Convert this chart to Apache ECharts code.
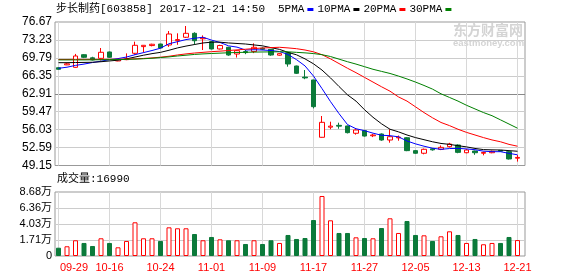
<!DOCTYPE html>
<html><head><meta charset="utf-8">
<script src="https://cdn.jsdelivr.net/npm/echarts@6/dist/echarts.min.js"></script>
<style>html,body{margin:0;padding:0;background:#fff}#c{width:578px;height:276px}</style>
</head><body><div id="c"></div>
<script>
// ---- data ----
const dates = ['09-29','10-09','10-10','10-11','10-12','10-13','10-16','10-17','10-18','10-19','10-20','10-23','10-24','10-25','10-26','10-27','10-30','10-31','11-01','11-02','11-03','11-06','11-07','11-08','11-09','11-10','11-13','11-14','11-15','11-16','11-17','11-20','11-21','11-22','11-23','11-24','11-27','11-28','11-29','11-30','12-01','12-04','12-05','12-06','12-07','12-08','12-11','12-12','12-13','12-14','12-15','12-18','12-19','12-20','12-21'];
const open  = [67.9,68.45,67.98,70.4,69.8,69.7,70.92,69.2,69.45,70.67,71.95,72.15,72.45,72.26,73.1,73.74,74.5,73.45,72.9,71.5,71.82,70.53,71.0,71.0,71.65,71.43,70.3,70.78,68.23,66.1,65.55,54.56,56.5,56.85,56.73,55.33,55.83,54.85,55.19,54.04,54.45,54.48,52.0,51.5,52.35,52.26,52.76,53.08,51.6,51.93,51.5,51.6,52.05,51.8,50.55];
const close = [67.6,68.65,70.15,69.9,69.4,70.86,69.9,69.5,69.6,72.2,72.2,72.4,71.7,74.37,73.3,74.5,73.08,73.6,71.5,72.16,70.34,71.17,70.8,71.82,71.45,70.34,70.6,68.62,66.83,65.95,60.43,57.43,56.7,56.7,55.45,55.96,54.8,55.0,54.04,54.67,54.6,52.0,51.5,52.26,52.15,52.63,53.27,51.67,52.12,51.6,51.65,51.86,51.9,50.4,50.7];
const low   = [67.5,68.4,67.9,69.75,69.3,69.3,69.8,69.15,69.35,70.4,70.8,72.0,71.6,71.9,72.3,73.6,72.3,71.3,71.4,71.4,70.2,69.85,70.5,70.7,71.3,70.2,70.2,68.1,66.7,65.7,60.1,54.5,56.1,56.2,55.3,55.06,54.7,54.6,53.9,53.52,53.9,51.9,51.4,51.3,52.0,52.1,52.6,51.5,51.5,51.2,51.1,51.5,51.8,50.3,49.9];
const high  = [68.0,68.8,70.55,70.5,70.0,71.68,71.0,69.55,70.65,72.9,72.25,72.5,72.5,74.94,74.5,75.9,74.7,74.1,73.0,72.3,71.9,71.3,71.3,72.58,71.8,71.5,70.7,70.9,68.3,67.46,65.6,58.64,57.55,57.36,56.8,56.1,56.0,55.2,55.3,56.09,54.9,54.6,52.1,52.4,52.5,53.0,53.5,53.2,52.3,52.0,51.8,52.0,52.1,51.9,51.15];
// volume in 万 (10k)
const volume = [0.59,0.80,1.67,1.28,0.84,1.96,1.28,0.65,1.57,4.28,1.96,1.96,1.57,3.55,3.41,3.41,2.58,1.67,2.15,1.81,1.67,1.67,1.13,1.67,1.13,1.67,1.28,2.44,1.86,2.0,4.61,8.10,4.57,2.73,2.73,2.10,2.0,1.96,3.45,4.86,2.73,4.47,2.44,2.39,1.57,2.25,2.97,2.44,1.28,1.86,1.09,1.28,1.28,2.15,1.699];
const ma5  = [67.79,68.0,68.35,68.6,68.9,69.15,69.45,69.65,69.95,70.4,70.8,71.2,71.65,72.5,72.9,73.3,73.55,73.75,73.2,72.75,72.1,71.85,71.3,71.35,71.3,71.2,71.0,70.45,69.45,68.25,66.3,63.9,61.4,59.1,57.0,56.2,55.83,55.35,54.95,54.87,54.65,53.85,53.3,52.85,52.47,52.25,52.4,52.43,52.33,52.18,51.9,51.8,51.8,51.48,51.2];
const ma10 = [68.87,68.87,68.9,68.92,68.95,69.05,69.2,69.35,69.6,69.95,70.3,70.6,70.85,71.25,71.7,72.05,72.35,72.65,72.8,72.8,72.65,72.55,72.45,72.27,72.1,71.75,71.42,70.85,70.38,69.6,68.65,67.45,65.95,64.3,62.7,61.5,59.85,58.4,57.15,56.1,55.6,55.0,54.5,54.1,53.7,53.38,53.2,52.95,52.72,52.42,52.2,52.15,52.12,52.0,51.88];
const ma20 = [69.48,69.48,69.5,69.5,69.5,69.5,69.52,69.52,69.55,69.6,69.68,69.78,69.92,70.1,70.35,70.55,70.72,70.85,70.98,71.08,71.2,71.32,71.45,71.58,71.68,71.76,71.82,71.7,71.55,71.3,70.95,70.4,69.6,68.7,67.8,66.95,66.05,65.15,64.25,63.4,62.3,61.5,60.4,59.3,58.3,57.4,56.8,56.1,55.5,55.0,54.5,54.05,53.7,53.2,52.85];
const ma30 = [69.4,69.4,69.4,69.4,69.42,69.43,69.45,69.47,69.5,69.55,69.62,69.72,69.85,69.98,70.15,70.3,70.45,70.55,70.63,70.7,70.77,70.82,70.86,70.9,70.92,70.94,70.96,70.95,70.85,70.75,70.62,70.4,70.05,69.55,69.05,68.6,68.1,67.6,67.2,66.8,66.3,65.75,65.15,64.5,63.8,62.9,62.2,61.5,60.7,60.0,59.3,58.7,57.9,57.1,56.3];
const priceTicks = [49.15,52.59,56.03,59.47,62.91,66.35,69.79,73.23,76.67];
const volTickValues = [0,1.71,4.03,6.36,8.68];
const volTickLabels = ['0','1.71万','4.03万','6.36万','8.68万'];
const labelDates = ['09-29','10-16','10-24','11-01','11-09','11-17','11-27','12-05','12-13','12-21'];
const lastVolume = 16990;
const stockTitle = '步长制药[603858] 2017-12-21 14:50';

// ---- styling / layout ----
const RED = '#ff0000', GREEN = '#0b7a3a';
const VOL_FLOOR = -0.6125;                 // value at the bottom edge of the volume panel
const VOL_TOP = volTickValues[4] - VOL_FLOOR;
const XMIN = -3.5 / 8.5, XMAX = 466.5 / 8.5; // index range spanned by the 470px panel frame
const labelIdx = labelDates.map(d => dates.indexOf(d));
const volTicksPos = [0].concat(volTickValues.slice(1).map(v => v - VOL_FLOOR));
const VLINE = { color: '#d8d8d8', type: 'solid', width: 1 };

const candleData = dates.map((d, i) => [i, open[i], close[i], low[i], high[i]]);
const volData = volume.map((v, i) => ({
  value: [i, v - VOL_FLOOR],
  itemStyle: close[i] >= open[i]
    ? { color: '#ffffff', borderColor: RED, borderWidth: 1 }
    : { color: GREEN, borderColor: GREEN, borderWidth: 1 }
}));
const pair = arr => arr.map((v, i) => [i, v]);
// vertical date guide lines as broken line segments
const guide = (y0, y1) => labelIdx.flatMap(i => [[i, y0], [i, y1], [i, '-']]);

const monoFont = "'Liberation Mono','Noto Sans CJK SC',monospace";
const numFont = "'Liberation Sans','Noto Sans CJK SC',sans-serif";

function xAxisCfg(gridIndex, showLabel) {
  return {
    type: 'value', gridIndex, min: XMIN, max: XMAX,
    axisLine: { show: false },
    axisTick: { show: false, customValues: labelIdx },
    axisLabel: {
      show: showLabel, customValues: labelIdx, color: RED, fontSize: 11,
      fontFamily: numFont, margin: 6,
      formatter: v => { const i = Math.round(v); return i === 0 ? '{first|' + dates[i] + '}' : dates[i]; },
      rich: { first: { padding: [0, 0, 0, 31], color: RED, fontSize: 11, fontFamily: numFont } }
    },
    splitLine: { show: false }
  };
}

const chart = echarts.init(document.getElementById('c'), null, { renderer: 'canvas' });
chart.setOption({
  animation: false,
  backgroundColor: '#ffffff',
  title: [
    { text: stockTitle, left: 56, top: 4, padding: 0,
      textStyle: { fontSize: 11, fontWeight: 'normal', color: '#000', fontFamily: monoFont } },
    { text: '成交量:' + lastVolume, left: 57, top: 174, padding: 0,
      textStyle: { fontSize: 11, fontWeight: 'normal', color: '#000', fontFamily: monoFont } }
  ],
  legend: {
    left: 278, top: 4, padding: 0, itemGap: 4, itemWidth: 6, itemHeight: 3,
    align: 'right', icon: 'rect', selectedMode: false,
    textStyle: { fontSize: 11, color: '#000', fontFamily: monoFont, padding: [0, -2, 0, 0] },
    data: ['5PMA', '10PMA', '20PMA', '30PMA']
  },
  graphic: [
    { type: 'text', left: 453, top: 23, silent: true, z: 0,
      style: { text: '东方财富网', font: 'bold 14px "Noto Sans CJK SC"', fill: '#d4d4d4' } },
    { type: 'text', left: 453, top: 38, silent: true, z: 0,
      style: { text: 'eastmoney.com', font: 'bold 9.5px "Liberation Sans"', fill: '#d4d4d4' } }
  ],
  grid: [
    { left: 55, top: 22, width: 470, height: 143.5, show: true, borderColor: '#999', borderWidth: 1, backgroundColor: 'transparent' },
    { left: 55, top: 192, width: 470, height: 64, show: true, borderColor: '#999', borderWidth: 1, backgroundColor: 'transparent' }
  ],
  xAxis: [xAxisCfg(0, false), xAxisCfg(1, true)],
  yAxis: [
    { type: 'value', gridIndex: 0, min: priceTicks[0], max: priceTicks[priceTicks.length - 1], interval: 3.44,
      axisLine: { show: false }, axisTick: { show: false, customValues: priceTicks },
      axisLabel: { customValues: priceTicks, formatter: v => v.toFixed(2), color: '#000', fontSize: 12, fontFamily: numFont, margin: 3 },
      splitLine: { show: true, showMinLine: false, showMaxLine: false, lineStyle: { color: '#cccccc', width: 1 } } },
    { type: 'value', gridIndex: 1, min: 0, max: VOL_TOP, interval: volTickValues[4] - volTickValues[3],
      axisLine: { show: false }, axisTick: { show: false, customValues: volTicksPos },
      axisLabel: { customValues: volTicksPos, color: '#000', fontSize: 11, fontFamily: numFont, margin: 3,
        formatter: v => volTickLabels[volTicksPos.findIndex(p => Math.abs(p - v) < 0.01)] },
      splitLine: { show: true, showMinLine: false, showMaxLine: false, lineStyle: { color: '#cccccc', width: 1 } } }
  ],
  series: [
    { type: 'line', name: 'guideK', xAxisIndex: 0, yAxisIndex: 0, data: guide(priceTicks[0], priceTicks[8]),
      symbol: 'none', silent: true, z: 1, connectNulls: false, lineStyle: VLINE, color: '#d8d8d8' },
    { type: 'line', name: 'guideV', xAxisIndex: 1, yAxisIndex: 1, data: guide(0, VOL_TOP),
      symbol: 'none', silent: true, z: 1, connectNulls: false, lineStyle: VLINE, color: '#d8d8d8' },
    { type: 'candlestick', name: 'K', xAxisIndex: 0, yAxisIndex: 0, data: candleData,
      encode: { x: 0, y: [1, 2, 3, 4] }, barWidth: 5, z: 2,
      itemStyle: { color: '#ffffff', color0: GREEN, borderColor: RED, borderColor0: GREEN, borderWidth: 1 },
      markLine: { silent: true, symbol: ['none', 'none'], label: { show: false }, z: 1,
        data: [{ yAxis: priceTicks[4], lineStyle: { color: '#888888', type: 'solid', width: 1 } }] } },
    { type: 'line', name: '5PMA', xAxisIndex: 0, yAxisIndex: 0, data: pair(ma5), symbol: 'none', z: 3, color: '#0000ff', lineStyle: { width: 1, color: '#0000ff' } },
    { type: 'line', name: '10PMA', xAxisIndex: 0, yAxisIndex: 0, data: pair(ma10), symbol: 'none', z: 3, color: '#000000', lineStyle: { width: 1, color: '#000000' } },
    { type: 'line', name: '20PMA', xAxisIndex: 0, yAxisIndex: 0, data: pair(ma20), symbol: 'none', z: 3, color: '#ff0000', lineStyle: { width: 1, color: '#ff0000' } },
    { type: 'line', name: '30PMA', xAxisIndex: 0, yAxisIndex: 0, data: pair(ma30), symbol: 'none', z: 3, color: '#008000', lineStyle: { width: 1, color: '#008000' } },
    { type: 'bar', name: 'VOL', xAxisIndex: 1, yAxisIndex: 1, data: volData, barWidth: 5 }
  ]
});
</script></body></html>
